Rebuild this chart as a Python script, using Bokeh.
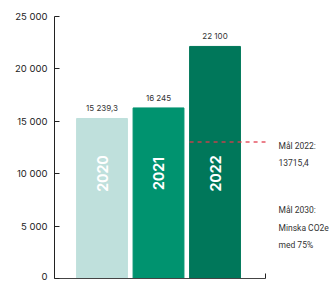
from bokeh.plotting import figure
from bokeh.models import Range1d, FixedTicker, Label, ColumnDataSource
from bokeh.core.properties import value
from bokeh.embed import file_html
from bokeh.resources import INLINE
import math

years = ["2020", "2021", "2022"]
emissions = [15239.3, 16245, 22100]
value_labels = ["15 239,3", "16 245", "22 100"]
bar_colors = ["#bfe0dc", "#00936f", "#00775a"]
goal_line_level = 13000  # level of the dashed goal line as drawn in the picture
y_ticks = [0, 5000, 10000, 15000, 20000, 25000]
y_tick_labels = ["0", "5 000", "10 000", "15 000", "20 000", "25 000"]
note_lines = ["Mål 2022:", "13715,4", "Mål 2030:", "Minska CO2e", "med 75%"]

W, H = 334, 281
LEFT = 54
BOTTOM = 3
x_unit = 56.5
x_start = -0.841
x_end = x_start + (W - LEFT) / x_unit
axis_end = 2.894
bar_w = 0.9

frame_h = H - BOTTOM
px_per = (frame_h - 15.5) / 25000.0
y_end = 25000 + 15.5 / px_per

p = figure(width=W, height=H, output_backend="svg", toolbar_location=None,
           x_range=Range1d(x_start, x_end), y_range=Range1d(0, y_end),
           min_border_left=LEFT, min_border_right=0, min_border_top=0, min_border_bottom=BOTTOM)
p.outline_line_color = None
p.grid.visible = False
p.background_fill_color = "white"
p.border_fill_color = "white"

xs = list(range(len(years)))
src = ColumnDataSource(dict(x=xs, top=emissions, color=bar_colors, lab=value_labels, yr=years,
                            ymid=[10000] * len(years)))
p.vbar(x="x", top="top", bottom=0, width=bar_w, color="color", source=src)
p.text(x="x", y="top", text="lab", source=src, text_align="center", text_baseline="bottom",
       y_offset=-5, text_font=value("Inter"), text_font_size="8px", text_color="#333333")
p.text(x="x", y="ymid", text="yr", source=src, angle=math.pi / 2, text_align="center",
       text_baseline="middle", text_font=value("Inter"), text_font_style="bold",
       text_font_size="14px", text_color="white")

# goal line from left edge of the 2022 bar to the axis end
p.line(x=[xs[2] - bar_w / 2, axis_end], y=[goal_line_level, goal_line_level], line_color="#e23a4a",
       line_alpha=0.85, line_width=1.5, line_dash="4 4")

# y axis
ya = p.yaxis[0]
ya.ticker = FixedTicker(ticks=y_ticks)
ya.major_label_overrides = {t: l for t, l in zip(y_ticks, y_tick_labels)}
ya.bounds = (0, 25000)
ya.major_tick_in = 5
ya.major_tick_out = 0
ya.minor_tick_line_color = None
ya.axis_line_color = "#222222"
ya.major_tick_line_color = "#222222"
ya.major_label_text_font = "Inter"
ya.major_label_text_font_size = "9.5px"
ya.major_label_text_color = "#222222"
ya.major_label_standoff = 7

xa = p.xaxis[0]
xa.ticker = FixedTicker(ticks=[axis_end])
xa.major_label_overrides = {axis_end: ""}
xa.major_label_text_font_size = "0px"
xa.bounds = (x_start, axis_end)
xa.major_tick_in = 5
xa.major_tick_out = 0
xa.minor_tick_line_color = None
xa.axis_line_color = "#444444"
xa.major_tick_line_color = "#222222"
xa.major_label_standoff = 0

# note positions in screen px, relative to the plot frame (left / bottom)
note_x = 224
note_y = [133, 116, 69, 51, 34]
for t, yy in zip(note_lines, note_y):
    p.add_layout(Label(x=note_x, y=yy, x_units="screen", y_units="screen", text=t,
                       text_font="Roboto", text_font_size="8.5px", text_color="#333333",
                       text_baseline="middle"))

open("out.html", "w").write(file_html(p, INLINE))
